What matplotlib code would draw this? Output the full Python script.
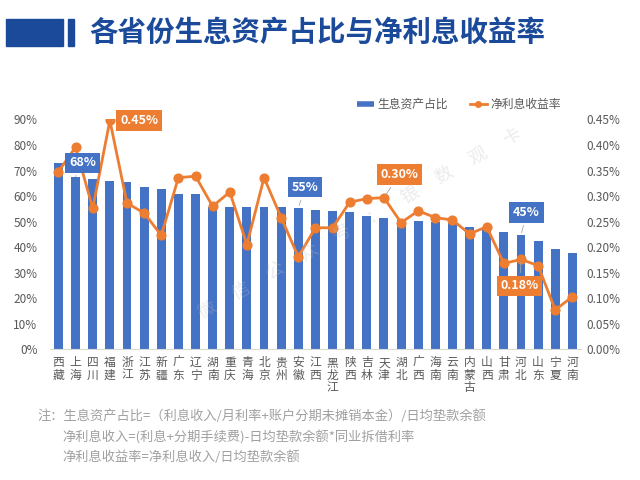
import numpy as np
import matplotlib.pyplot as plt
from matplotlib.lines import Line2D
from matplotlib.patches import Rectangle
from matplotlib.ticker import FuncFormatter, MultipleLocator

plt.rcParams['font.family'] = ['Noto Sans CJK SC', 'DejaVu Sans']

provinces = ['西藏', '上海', '四川', '福建', '浙江', '江苏', '新疆', '广东', '辽宁', '湖南',
             '重庆', '青海', '北京', '贵州', '安徽', '江西', '黑龙江', '陕西', '吉林', '天津',
             '湖北', '广西', '海南', '云南', '内蒙古', '山西', '甘肃', '河北', '山东', '宁夏', '河南']
# 生息资产占比 (%)
asset_ratio = [73.1, 67.6, 66.6, 65.8, 65.5, 63.7, 62.7, 60.8, 60.8, 55.9,
               55.8, 55.8, 55.8, 55.8, 55.3, 54.5, 54.2, 53.7, 52.2, 51.4,
               50.8, 50.3, 50.0, 49.7, 48.0, 47.6, 45.9, 44.6, 42.3, 39.4, 37.8]
# 净利息收益率 (%)
nim = [0.348, 0.396, 0.276, 0.448, 0.286, 0.267, 0.223, 0.336, 0.339, 0.280,
       0.308, 0.205, 0.336, 0.258, 0.181, 0.238, 0.238, 0.288, 0.295, 0.297,
       0.248, 0.271, 0.258, 0.253, 0.226, 0.240, 0.168, 0.176, 0.164, 0.077, 0.103]

bar_labels = ['上海', '安徽', '河北']
line_labels = ['福建', '天津', '河北']

blue = '#4472C4'
orange = '#ED7D31'
navy = '#1B4A9B'
grey = '#595959'

fig = plt.figure(figsize=(6.4, 4.8), dpi=100)
ax = fig.add_axes([0.078, 0.2723, 0.8297, 0.4788])
ax2 = ax.twinx()

x = np.arange(len(provinces))
ax.bar(x, asset_ratio, width=0.52, color=blue, zorder=2)
ax2.plot(x, nim, color=orange, lw=2.0, marker='o', ms=6.3, zorder=3)

ax.set_xlim(-0.5, len(provinces) - 0.5)
ax.set_ylim(0, 90)
ax2.set_ylim(0, 0.45)
ax.yaxis.set_major_locator(MultipleLocator(10))
ax2.yaxis.set_major_locator(MultipleLocator(0.05))
ax.yaxis.set_major_formatter(FuncFormatter(lambda v, p: f'{v:.0f}%'))
ax2.yaxis.set_major_formatter(FuncFormatter(lambda v, p: f'{v:.2f}%'))

ax.set_xticks(x)
ax.set_xticklabels(['\n'.join(p) for p in provinces], fontsize=8, color=grey,
                   linespacing=0.95, va='top')

for a in (ax, ax2):
    for s in a.spines.values():
        s.set_visible(False)
    a.tick_params(length=0, colors=grey, labelsize=8.5)
ax.spines['bottom'].set_visible(True)
ax.spines['bottom'].set_color('#D9D9D9')
ax.tick_params(axis='y', pad=9)
ax.tick_params(axis='x', pad=5)
ax2.tick_params(axis='y', pad=4)

# data labels
offsets_bar = {'上海': (5, 10), '安徽': (5, 15), '河北': (4, 16.5)}
for p in bar_labels:
    i = provinces.index(p)
    ax2.annotate(f'{asset_ratio[i]:.0f}%', xy=(i, asset_ratio[i]), xycoords=ax.transData,
                 xytext=offsets_bar[p], textcoords='offset points', ha='center', va='center',
                 fontsize=9, fontweight='bold', color='white', zorder=5,
                 bbox=dict(boxstyle='square,pad=0.3', fc=blue, ec='none'),
                 arrowprops=dict(arrowstyle='-', color='#A6A6A6', lw=0.6))

offsets_line = {'福建': (21, 0), '天津': (11, 16.5), '河北': (-1, -19)}
for p in line_labels:
    i = provinces.index(p)
    ax2.annotate(f'{nim[i]:.2f}%', xy=(i, nim[i]),
                 xytext=offsets_line[p], textcoords='offset points', ha='center', va='center',
                 fontsize=9, fontweight='bold', color='white', zorder=5,
                 bbox=dict(boxstyle='square,pad=0.3', fc=orange, ec='none'),
                 arrowprops=dict(arrowstyle='-', color='#A6A6A6', lw=0.6))

handles = [Line2D([], [], color=blue, lw=4, solid_capstyle='butt'),
           Line2D([], [], color=orange, lw=2, marker='o', ms=4)]
fig.legend(handles, ['生息资产占比', '净利息收益率'], loc='center',
           bbox_to_anchor=(0.717, 0.783), ncol=2, frameon=False, fontsize=8.5,
           handlelength=1.5, handletextpad=0.3, columnspacing=1.8,
           labelcolor=grey)

# watermark
wm = '微信公众号：银数观卡'
for k, ch in enumerate(wm):
    px = 207 + (512 - 207) * k / (len(wm) - 1)
    py = 310 + (137 - 310) * k / (len(wm) - 1)
    fig.text(px / 640, 1 - py / 480, ch, fontsize=13, color='#BFBFBF', alpha=0.3,
             rotation=30, ha='center', va='center', zorder=10)

# title
fig.patches.append(Rectangle((6 / 640, 1 - 46 / 480), 57 / 640, 27 / 480,
                             transform=fig.transFigure, color=navy))
fig.patches.append(Rectangle((68 / 640, 1 - 46 / 480), 6 / 640, 27 / 480,
                             transform=fig.transFigure, color=navy))
fig.text(89 / 640, 1 - 33 / 480, '各省份生息资产占比与净利息收益率', fontsize=20.5,
         fontweight='bold', color=navy, va='center', ha='left')

# notes
note_c = '#A0A0A0'
fig.text(37 / 640, 1 - 416 / 480, '注：生息资产占比=（利息收入/月利率+账户分期未摊销本金）/日均垫款余额',
         fontsize=9.5, color=note_c, va='center')
fig.text(62 / 640, 1 - 437 / 480, '净利息收入=(利息+分期手续费)-日均垫款余额*同业拆借利率',
         fontsize=9.5, color=note_c, va='center')
fig.text(62 / 640, 1 - 457 / 480, '净利息收益率=净利息收入/日均垫款余额',
         fontsize=9.5, color=note_c, va='center')

fig.savefig('out.png', dpi=100)
